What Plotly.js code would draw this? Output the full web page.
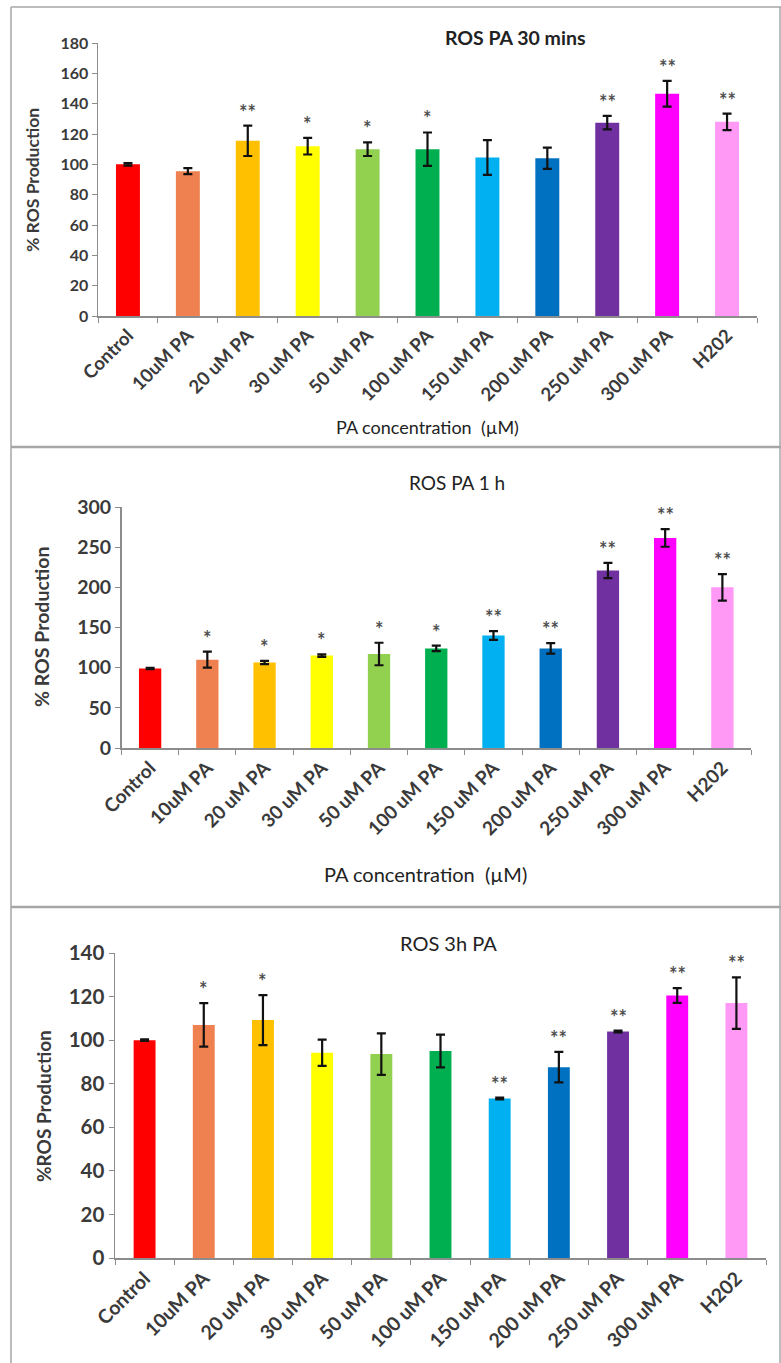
<!DOCTYPE html>
<html>
<head>
<meta charset="utf-8">
<script src="https://cdn.plot.ly/plotly-3.0.1.min.js"></script>
<style>html,body{margin:0;padding:0;background:#fff;}#chart{width:781px;height:1363px;}</style>
</head>
<body>
<div id="chart"></div>
<script>
// ---- data ----
const categories = ["Control","10uM PA","20 uM PA","30 uM PA","50 uM PA","100 uM PA","150 uM PA","200 uM PA","250 uM PA","300 uM PA","H202"];
const barColors = ["#FF0000","#EF8150","#FFC000","#FFFF00","#92D050","#00B050","#00B0F0","#0070C0","#7030A0","#FF00FF","#FF99F5"];

const titles = ["ROS PA 30 mins","ROS PA 1 h","ROS 3h PA"];
const yTitles = ["% ROS Production","% ROS Production","%ROS Production"];
const xTitle = "PA concentration  (\u00B5M)";

const ros30min = [100, 95.5, 115.5, 112, 110, 110, 104.5, 104, 127.5, 146.5, 128];
const ros30minErr = [0.8, 2, 10, 5.5, 4.5, 11, 11.5, 7, 4.5, 8.5, 5.5];
const ros30minSig = ["", "", "**", "*", "*", "*", "", "", "**", "**", "**"];

const ros1h = [99, 110, 106.5, 115, 117, 124, 140, 124, 221, 261.5, 200];
const ros1hErr = [0.8, 10, 2, 1.5, 14, 3.5, 5.5, 6.5, 9.5, 11, 16.5];
const ros1hSig = ["", "*", "*", "*", "*", "*", "**", "**", "**", "**", "**"];

const ros3h = [100, 107, 109.2, 94.2, 93.6, 95, 73.2, 87.6, 104, 120.5, 117];
const ros3hErr = [0.4, 10, 11.5, 6, 9.5, 7.5, 0.4, 7, 0.4, 3.4, 11.8];
const ros3hSig = ["", "*", "*", "", "", "", "**", "**", "**", "**", "**"];

const yRanges = [[0,180],[0,300],[0,140]];
const yDtick = [20, 50, 20];

// ---- layout helpers (pixel -> paper) ----
const W = 781, H = 1363;
const px = x => x / W;
const py = y => 1 - y / H;

const plotBoxes = [
  {x0: 98, x1: 757, y0: 43, y1: 316},
  {x0: 121.5, x1: 751, y0: 507, y1: 748},
  {x0: 115, x1: 766, y0: 953, y1: 1258}
];
const titlePos = [[515, 37], [457, 483], [448, 943]];
const yTitlePos = [[33, 180], [41, 627], [43, 1106]];
const xTitlePos = [[427, 427], [425, 874]];
const barWidth = [0.40, 0.39, 0.37];
// per-panel font sizes: [yTick, xTick, yTitle, title, xTitle, stars]
const fs = [
  [16, 18.5, 17.5, 19.5, 18, 20],
  [19.5, 19, 19.5, 19, 20, 20],
  [20.5, 19.5, 19, 20, 20, 20]
];

const values = [ros30min, ros1h, ros3h];
const errs = [ros30minErr, ros1hErr, ros3hErr];
const sigs = [ros30minSig, ros1hSig, ros3hSig];

const fontFam = "Lato, 'Open Sans', sans-serif";
const textCol = "#3a3a3a";
const axCol = "#8c8c8c";

const data = [];
const layout = {
  width: W, height: H,
  margin: {l:0, r:0, t:0, b:0},
  paper_bgcolor: "#fff", plot_bgcolor: "#fff",
  showlegend: false,
  font: {family: fontFam, color: textCol},
  annotations: [], shapes: []
};

for (let i = 0; i < 3; i++) {
  const sfx = i === 0 ? "" : String(i + 1);
  const b = plotBoxes[i];
  const f = fs[i];
  data.push({
    type: "bar",
    x: categories, y: values[i],
    xaxis: "x" + sfx, yaxis: "y" + sfx,
    width: barWidth[i],
    marker: {color: barColors, line: {width: 0}},
    error_y: {type: "data", array: errs[i], visible: true, color: "#111", thickness: 2.2, width: 4.5},
    hoverinfo: "x+y"
  });
  layout["xaxis" + sfx] = {
    domain: [px(b.x0), px(b.x1)],
    anchor: "y" + sfx,
    type: "category",
    range: [-0.5, categories.length - 0.5],
    showline: true, linecolor: axCol, linewidth: 1.5,
    ticks: "outside", ticklen: 5, tickcolor: axCol, tickwidth: 1,
    tickson: "boundaries",
    tickangle: -45,
    tickfont: {family: fontFam, size: f[1], color: textCol, weight: "bold"},
    showgrid: false, zeroline: false, fixedrange: true
  };
  layout["yaxis" + sfx] = {
    domain: [py(b.y1), py(b.y0)],
    anchor: "x" + sfx,
    range: yRanges[i],
    dtick: yDtick[i], tick0: 0,
    showline: true, linecolor: axCol, linewidth: 1.5,
    ticks: "outside", ticklen: 5, tickcolor: axCol,
    tickfont: {family: fontFam, size: f[0], color: textCol, weight: "bold"},
    showgrid: false, zeroline: false, fixedrange: true
  };
  // panel title
  layout.annotations.push({
    xref: "paper", yref: "paper", x: px(titlePos[i][0]), y: py(titlePos[i][1]),
    xanchor: "center", yanchor: "middle", showarrow: false,
    text: titles[i],
    font: {family: fontFam, size: f[3], color: "#222", weight: i === 0 ? "bold" : "normal"}
  });
  // y title
  layout.annotations.push({
    xref: "paper", yref: "paper", x: px(yTitlePos[i][0]), y: py(yTitlePos[i][1]),
    xanchor: "center", yanchor: "middle", showarrow: false, textangle: -90,
    text: yTitles[i],
    font: {family: fontFam, size: f[2], color: textCol, weight: "bold"}
  });
  if (i < 2) {
    layout.annotations.push({
      xref: "paper", yref: "paper", x: px(xTitlePos[i][0]), y: py(xTitlePos[i][1]),
      xanchor: "center", yanchor: "middle", showarrow: false,
      text: xTitle,
      font: {family: fontFam, size: f[4], color: "#222"}
    });
  }
  // significance stars
  for (let k = 0; k < categories.length; k++) {
    if (!sigs[i][k]) continue;
    layout.annotations.push({
      xref: "x" + sfx, yref: "y" + sfx,
      x: categories[k], y: values[i][k] + errs[i][k],
      xanchor: "center", yanchor: "middle", yshift: 14, showarrow: false,
      text: sigs[i][k],
      font: {family: fontFam, size: f[5], color: "#505050", weight: "bold"}
    });
  }
}

// panel borders
const borderCol = "#a6a6a6";
layout.shapes.push(
  {type: "line", xref: "paper", yref: "paper", x0: px(11), x1: px(11), y0: py(7), y1: py(1363), line: {color: borderCol, width: 1.5}},
  {type: "line", xref: "paper", yref: "paper", x0: px(780), x1: px(780), y0: py(7), y1: py(1363), line: {color: borderCol, width: 1.5}},
  {type: "line", xref: "paper", yref: "paper", x0: px(11), x1: px(781), y0: py(7), y1: py(7), line: {color: borderCol, width: 1.5}},
  {type: "line", xref: "paper", yref: "paper", x0: px(11), x1: px(781), y0: py(447), y1: py(447), line: {color: borderCol, width: 2.5}},
  {type: "line", xref: "paper", yref: "paper", x0: px(11), x1: px(781), y0: py(907), y1: py(907), line: {color: borderCol, width: 2.5}}
);

Plotly.newPlot("chart", data, layout, {displayModeBar: false, staticPlot: true});
</script>
</body>
</html>
